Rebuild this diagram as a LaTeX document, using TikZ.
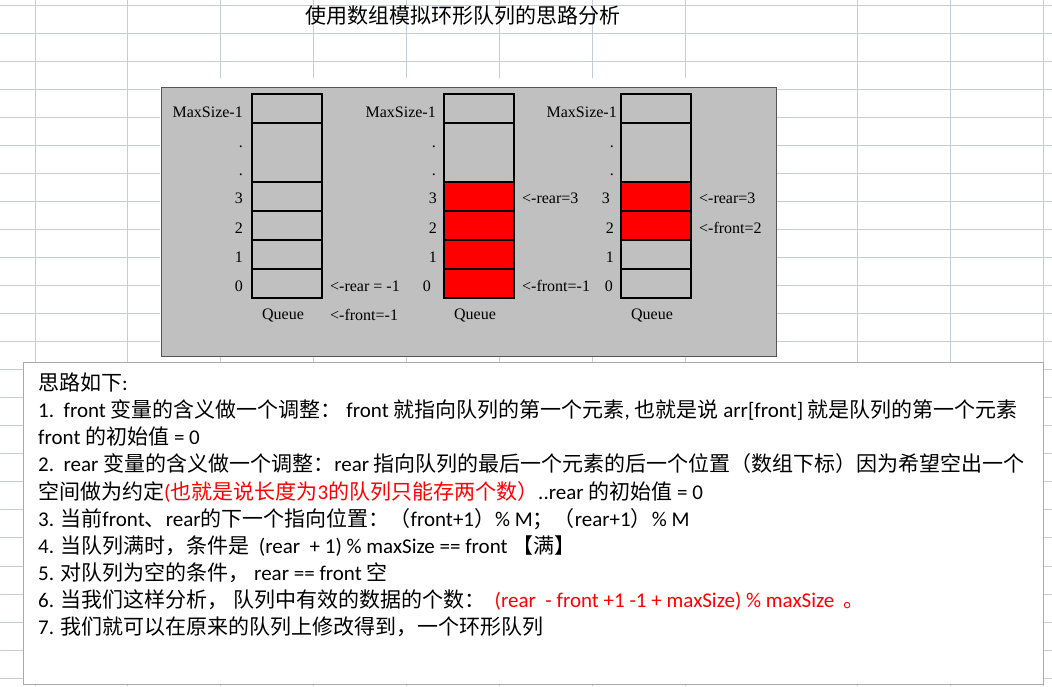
\documentclass[tikz,border=0pt]{standalone}
\usepackage{fontspec}
\setmainfont{Carlito}
\newfontfamily\cj{Noto Sans CJK SC}
\newfontfamily\tms{Liberation Serif}
\definecolor{gridc}{HTML}{C6CBD5}
\definecolor{panelc}{HTML}{C0C0C0}
\definecolor{panelb}{HTML}{555555}
\definecolor{tbord}{HTML}{A8A8A8}
\definecolor{qred}{HTML}{FF0000}
\tikzset{
 cell/.style={draw=black, line width=1.1pt, minimum width=70pt, inner sep=0pt, outer sep=0pt, anchor=north west},
 lab/.style={font=\tms\fontsize{16}{18}\selectfont, inner sep=0pt, anchor=base east},
 labw/.style={font=\tms\fontsize{16}{18}\selectfont, inner sep=0pt, anchor=base west},
 txt/.style={font=\fontsize{21}{24}\selectfont, inner sep=0pt, anchor=base west},
 gridline/.style={draw=gridc, line width=1pt},
}
\begin{document}
\begin{tikzpicture}[x=1pt,y=-1pt]
\useasboundingbox (0,0) rectangle (1052,686);
\fill[white] (0,0) rectangle (1052,686);
% spreadsheet grid
\foreach \k in {0,...,24} \draw[gridline] (0,{5+28.05*\k}) -- (1052,{5+28.05*\k});
\foreach \x in {35,127.5,220,313,406,499,592,685,857,950,1043} \draw[gridline] (\x,0) -- (\x,686);
% title
\node[font=\cj\fontsize{21}{24}\selectfont, inner sep=0pt, anchor=base] (title) at (463,23.5) {使用数组模拟环形队列的思路分析};
% picture panel
\fill[white] (160,78) rectangle (776,356);
\node[draw=panelb, fill=panelc, line width=1.8pt, minimum width=615pt, minimum height=269pt, inner sep=0pt, anchor=north west] (panel) at (160.5,86.5) {};
\foreach \q/\x/\fa/\fb/\fc/\fd in {a/252/panelc/panelc/panelc/panelc, b/444/qred/qred/qred/qred, c/621/qred/qred/panelc/panelc}{
 \node[cell, minimum height=29pt] (\q-top) at (\x,94) {};
 \node[cell, minimum height=59pt] (\q-dots) at (\x,123) {};
 \node[cell, fill=\fa, minimum height=29pt] (\q-3) at (\x,182) {};
 \node[cell, fill=\fb, minimum height=29pt] (\q-2) at (\x,211) {};
 \node[cell, fill=\fc, minimum height=29pt] (\q-1) at (\x,240) {};
 \node[cell, fill=\fd, minimum height=29pt] (\q-0) at (\x,269) {};
 \node[labw, anchor=base] (\q-queue) at (\x+31,319) {Queue};
}
% queue a labels
\node[lab] (a-lmax) at (243,117) {MaxSize-1};
\node[lab] (a-ld1) at (243,147) {.};
\node[lab] (a-ld2) at (243,175) {.};
\node[lab] (a-l3) at (243,203) {3};
\node[lab] (a-l2) at (243,233) {2};
\node[lab] (a-l1) at (243,262) {1};
\node[lab] (a-l0) at (243,291) {0};
\node[labw] (a-rear) at (330,291) {<-rear = -1};
\node[labw] (a-front) at (330,320) {<-front=-1};
% queue b labels
\node[lab] (b-lmax) at (436,117) {MaxSize-1};
\node[lab] (b-ld1) at (436,147) {.};
\node[lab] (b-ld2) at (436,175) {.};
\node[lab] (b-l3) at (437,203) {3};
\node[lab] (b-l2) at (437,233) {2};
\node[lab] (b-l1) at (437,262) {1};
\node[lab] (b-l0) at (431,291) {0};
\node[labw] (b-rear) at (522,203) {<-rear=3};
\node[labw] (b-front) at (522,291) {<-front=-1};
% queue c labels
\node[lab] (c-lmax) at (617,117) {MaxSize-1};
\node[lab] (c-ld1) at (614,147) {.};
\node[lab] (c-ld2) at (614,175) {.};
\node[lab] (c-l3) at (610,203) {3};
\node[lab] (c-l2) at (614,233) {2};
\node[lab] (c-l1) at (614,262) {1};
\node[lab] (c-l0) at (613,291) {0};
\node[labw] (c-rear) at (699,203) {<-rear=3};
\node[labw] (c-front) at (699,233) {<-front=2};
% notes box
\node[draw=tbord, fill=white, line width=1pt, minimum width=1020pt, minimum height=322pt, inner sep=0pt, anchor=north west] (notes) at (23,362) {};
\node[txt] (l1) at (38,390) {{\cj 思路如下}:};
\node[txt] (l2) at (38,417) {1.\ \ front {\cj 变量的含义做一个调整：}\ front {\cj 就指向队列的第一个元素}, {\cj 也就是说} arr[front] {\cj 就是队列的第一个元素}};
\node[txt] (l3) at (38,444) {front {\cj 的初始值} = 0};
\node[txt] (l4) at (38,471) {2.\ \ rear {\cj 变量的含义做一个调整：}rear {\cj 指向队列的最后一个元素的后一个位置（数组下标）因为希望空出一个}};
\node[txt] (l5) at (38,499) {{\cj 空间做为约定}\textcolor{qred}{({\cj 也就是说长度为}3{\cj 的队列只能存两个数）}}..rear {\cj 的初始值} = 0};
\node[txt] (l6) at (38,526) {3. {\cj 当前}front{\cj 、}rear{\cj 的下一个指向位置：（}front+1{\cj ）}\% M{\cj ；（}rear+1{\cj ）}\% M};
\node[txt] (l7) at (38,553) {4. {\cj 当队列满时，条件是}\ \ (rear\ \ + 1) \% maxSize == front {\cj 【满】}};
\node[txt] (l8) at (38,580) {5. {\cj 对队列为空的条件，}\ rear == front {\cj 空}};
\node[txt] (l9) at (38,607) {6. {\cj 当我们这样分析，}\ {\cj 队列中有效的数据的个数：}\ \ \textcolor{qred}{(rear\ \ - front +1 -1 + maxSize) \% maxSize\ \ {\cj 。}}};
\node[txt] (l10) at (38,634) {7. {\cj 我们就可以在原来的队列上修改得到，一个环形队列}};
\end{tikzpicture}
\end{document}
